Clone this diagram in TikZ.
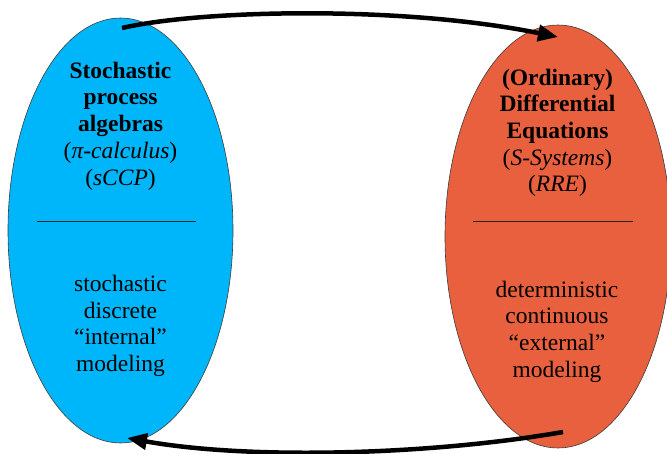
\documentclass[tikz,border=0pt]{standalone}
\usepackage{fontspec}
\setmainfont{Liberation Serif}
\newfontfamily\tms{Liberation Serif}
\usetikzlibrary{shapes.geometric,arrows.meta}
\definecolor{blueell}{RGB}{0,182,250}
\definecolor{redell}{RGB}{232,96,62}
\definecolor{edgegray}{RGB}{60,60,60}
\tikzset{
  ell/.style={ellipse, draw=edgegray, line width=0.6pt, inner sep=0pt},
  txt/.style={anchor=base, inner sep=0pt, font=\tms\fontsize{23.5}{26.7}\selectfont},
  btxt/.style={txt, font=\tms\fontsize{23.5}{26.7}\selectfont\bfseries},
  sep/.style={draw=black!85, line width=0.8pt},
  flow/.style={line width=4.5pt, -{Triangle[length=20pt,width=16pt]}}
}
\begin{document}
\begin{tikzpicture}[x=1pt,y=-1pt]
\useasboundingbox (0,0) rectangle (667,453);
\clip (0,0) rectangle (667,453);
% ellipses
\node[ell, fill=blueell, minimum width=225pt, minimum height=425pt] (L) at (120.5,230.5) {};
\node[ell, fill=redell, minimum width=226pt, minimum height=423pt] (R) at (558,236.5) {};
% left texts
\node[btxt] (l1) at (120.5,78) {Stochastic};
\node[btxt] (l2) at (120.5,104.5) {process};
\node[btxt] (l3) at (120.5,131) {algebras};
\node[txt] (l4) at (120.5,158) {(\textit{π-calculus})};
\node[txt] (l5) at (120.5,185) {(\textit{sCCP})};
\coordinate (lsa) at (37,221);
\coordinate (lsb) at (196,221);
\draw[sep] (lsa) -- (lsb);
\node[txt] (l6) at (120.5,291.5) {stochastic};
\node[txt] (l7) at (120.5,318) {discrete};
\node[txt] (l8) at (120.5,344.5) {“internal”};
\node[txt] (l9) at (120.5,371) {modeling};
% right texts
\node[btxt] (r1) at (557.5,85) {(Ordinary)};
\node[btxt] (r2) at (557.5,111.7) {Differential};
\node[btxt] (r3) at (557.5,138.4) {Equations};
\node[txt] (r4) at (557.5,165) {(\textit{S-Systems})};
\node[txt] (r5) at (557.5,191.7) {(\textit{RRE})};
\coordinate (rsa) at (473,221);
\coordinate (rsb) at (633,221);
\draw[sep] (rsa) -- (rsb);
\node[txt] (r6) at (557,297) {deterministic};
\node[txt] (r7) at (557,323.7) {continuous};
\node[txt] (r8) at (557,350.3) {“external”};
\node[txt] (r9) at (557,377) {modeling};
% arrows
\coordinate (ta) at (122,28);
\coordinate (tb) at (558,37);
\coordinate (ba) at (563,432);
\coordinate (bb) at (127,438);
\draw[flow] (ta) .. controls (200,10) and (400,5) .. (tb);
\draw[flow] (ba) .. controls (430,455) and (250,460) .. (bb);
\end{tikzpicture}
\end{document}
